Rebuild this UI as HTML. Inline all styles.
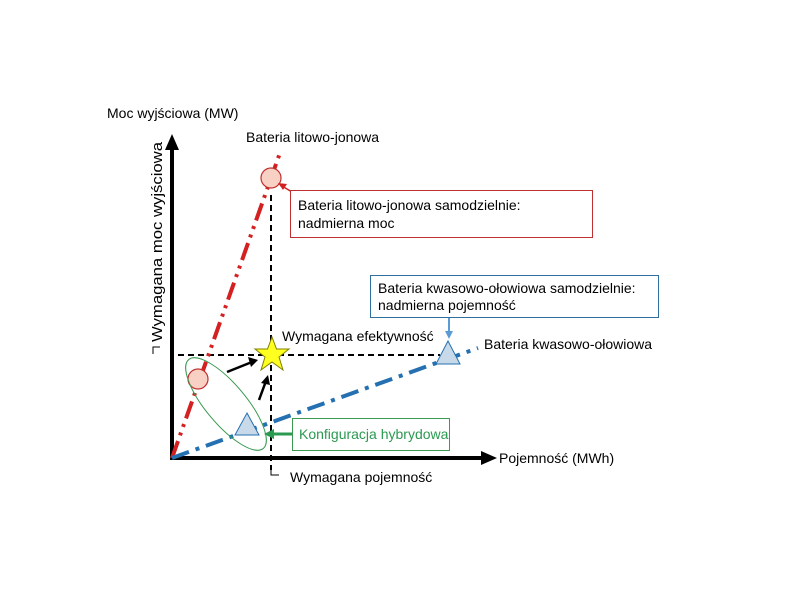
<!DOCTYPE html>
<html><head><meta charset="utf-8"><style>
html,body{margin:0;padding:0;background:#fff;}
svg{display:block;font-family:"Liberation Sans",sans-serif;}
</style></head><body>
<svg width="800" height="600" viewBox="0 0 800 600">
<line x1="178" y1="355" x2="440" y2="355" stroke="#000" stroke-width="2" stroke-dasharray="6,4"/>
<line x1="271" y1="195" x2="271" y2="470" stroke="#000" stroke-width="2" stroke-dasharray="6,4"/>
<line x1="172" y1="460" x2="172" y2="148" stroke="#000" stroke-width="4"/>
<path d="M165,150 L172,134 L179,150 z" fill="#000"/>
<line x1="170" y1="458" x2="483" y2="458" stroke="#000" stroke-width="4"/>
<path d="M481,451 L497,458 L481,465 z" fill="#000"/>
<line x1="172" y1="458" x2="281" y2="150" stroke="#d42020" stroke-width="4" stroke-dasharray="18,6,3,6,3,6"/>
<line x1="172" y1="458" x2="478" y2="348" stroke="#2470b0" stroke-width="4" stroke-dasharray="18,7,4,7"/>
<circle cx="271" cy="178" r="10" fill="#f8d0c4" stroke="#c03030" stroke-width="1.2"/>
<circle cx="198" cy="379" r="10" fill="#f8d0c4" stroke="#c03030" stroke-width="1.2"/>
<path d="M448,341 L460,364 L436,364 z" fill="#c8daea" stroke="#2470b0" stroke-width="1"/>
<path d="M247,413 L259,435 L235,435 z" fill="#c8daea" stroke="#2470b0" stroke-width="1"/>
<ellipse cx="226" cy="404" rx="58" ry="20" transform="rotate(50 226 404)" fill="none" stroke="#3a9a50" stroke-width="1"/>
<path d="M272,337 L276.5,349 L289,349 L279,357 L283,370 L272,362 L261,370 L265,357 L255,349 L267.5,349 z" fill="#ffff20" stroke="#808000" stroke-width="1"/>
<line x1="227" y1="372" x2="252" y2="362" stroke="#000" stroke-width="2.5"/>
<path d="M258,360 L248,357 L251,367 z" fill="#000"/>
<line x1="259" y1="400" x2="266" y2="381" stroke="#000" stroke-width="2.5"/>
<path d="M268,375 L261,383 L270,385 z" fill="#000"/>
<line x1="292" y1="192" x2="282" y2="186" stroke="#d42020" stroke-width="1.5"/>
<path d="M278,183 L287,184 L283,190 z" fill="#d42020"/>
<line x1="449" y1="318" x2="449" y2="333" stroke="#5b9bd5" stroke-width="2"/>
<path d="M445,331 L449,339 L453,331 z" fill="#5b9bd5"/>
<line x1="292" y1="434" x2="272" y2="434" stroke="#2a9a50" stroke-width="3"/>
<path d="M274,429 L264,434 L274,439 z" fill="#2a9a50"/>
<rect x="290.5" y="190.5" width="302" height="47" fill="#fff" stroke="#c03030" stroke-width="1"/>
<text x="298" y="210" font-size="14" fill="#000">Bateria litowo-jonowa samodzielnie:</text>
<text x="298" y="228" font-size="14" fill="#000">nadmierna moc</text>
<rect x="370.5" y="275.5" width="288" height="42" fill="#fff" stroke="#3070a0" stroke-width="1"/>
<text x="378" y="293" font-size="14" fill="#000">Bateria kwasowo-ołowiowa samodzielnie:</text>
<text x="378" y="310" font-size="14" fill="#000">nadmierna pojemność</text>
<rect x="292.5" y="418.5" width="157" height="32" fill="#fff" stroke="#3a9a50" stroke-width="1"/>
<text x="299" y="439" font-size="14" fill="#2a9a50">Konfiguracja hybrydowa</text>
<text x="107" y="118" font-size="14">Moc wyjściowa (MW)</text>
<text x="246" y="142" font-size="14">Bateria litowo-jonowa</text>
<text x="282" y="341" font-size="14">Wymagana efektywność</text>
<text x="484" y="349" font-size="14">Bateria kwasowo-ołowiowa</text>
<text x="499" y="463" font-size="14">Pojemność (MWh)</text>
<text x="290" y="482" font-size="14">Wymagana pojemność</text>
<text transform="translate(162 342) rotate(-90)" font-size="15" textLength="200" lengthAdjust="spacingAndGlyphs">Wymagana moc wyjściowa</text>
<path d="M153,354 V347 H160" fill="none" stroke="#000" stroke-width="1"/>
<path d="M271,468 V475 H279" fill="none" stroke="#000" stroke-width="1"/>
</svg>
</body></html>
